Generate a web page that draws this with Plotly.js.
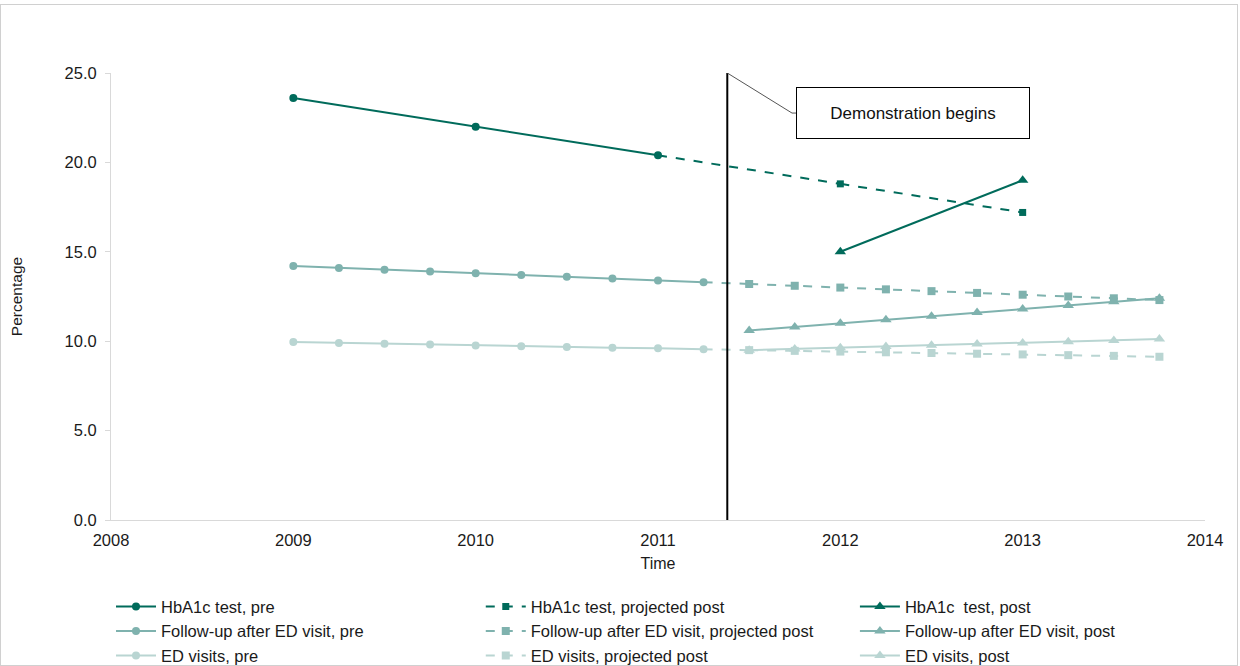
<!DOCTYPE html>
<html><head><meta charset="utf-8">
<script src="https://cdn.plot.ly/plotly-3.0.1.min.js"></script>
<style>
body{margin:0;padding:0;background:#fff;}
#wrap{position:relative;width:1240px;height:666px;}
#chart{position:absolute;left:0;top:0;width:1240px;height:666px;}
#frame{position:absolute;left:0;top:4px;width:1236px;height:660px;border:1px solid #d0d0d0;pointer-events:none;}
</style>
</head><body>
<div id="wrap"><div id="chart"></div><div id="frame"></div></div>
<script>
// ---- data ----
const hbaPreX = [2009, 2010, 2011];
const hbaPreY = [23.6, 22.0, 20.4];
const hbaProjX = [2011, 2012, 2013];
const hbaProjY = [20.4, 18.8, 17.2];
const hbaPostX = [2012, 2013];
const hbaPostY = [15.0, 19.0];

const fuPreX = [2009, 2009.25, 2009.5, 2009.75, 2010, 2010.25, 2010.5, 2010.75, 2011, 2011.25];
const fuPreY = [14.2, 14.1, 14.0, 13.9, 13.8, 13.7, 13.6, 13.5, 13.4, 13.3];
const fuProjX = [2011.25, 2011.5, 2011.75, 2012, 2012.25, 2012.5, 2012.75, 2013, 2013.25, 2013.5, 2013.75];
const fuProjY = [13.3, 13.2, 13.1, 13.0, 12.9, 12.8, 12.7, 12.6, 12.5, 12.4, 12.3];
const fuPostX = [2011.5, 2011.75, 2012, 2012.25, 2012.5, 2012.75, 2013, 2013.25, 2013.5, 2013.75];
const fuPostY = [10.6, 10.8, 11.0, 11.2, 11.4, 11.6, 11.8, 12.0, 12.2, 12.4];

const edPreX = [2009, 2009.25, 2009.5, 2009.75, 2010, 2010.25, 2010.5, 2010.75, 2011, 2011.25];
const edPreY = [9.95, 9.9, 9.86, 9.81, 9.76, 9.72, 9.68, 9.64, 9.6, 9.55];
const edProjX = [2011.25, 2011.5, 2011.75, 2012, 2012.25, 2012.5, 2012.75, 2013, 2013.25, 2013.5, 2013.75];
const edProjY = [9.55, 9.5, 9.46, 9.42, 9.38, 9.34, 9.3, 9.26, 9.22, 9.18, 9.13];
const edPostX = [2011.5, 2011.75, 2012, 2012.25, 2012.5, 2012.75, 2013, 2013.25, 2013.5, 2013.75];
const edPostY = [9.5, 9.57, 9.63, 9.7, 9.77, 9.84, 9.9, 9.97, 10.04, 10.12];

const demoStart = 2011.38;
const calloutText = "Demonstration begins";

// ---- styles ----
const cHba = "#006B5B", cFu = "#7FB2AE", cEd = "#B9D5D2";
const FONT = "Liberation Sans, Arial, sans-serif";
const TXT = "#1a1a1a";

function tr(name, x, y, color, dash, symbol, size, legend){
  return {type:"scatter", mode:"lines+markers", name:name, x:x, y:y, legend:legend,
    line:{color:color, width:2, dash:dash},
    marker:{color:color, symbol:symbol, size:size}};
}
// projected series: connector segment from last "pre" point (no marker) + marked trace
function proj(name, x, y, color, size){
  return [
    {type:"scatter", mode:"lines", x:x.slice(0,2), y:y.slice(0,2), showlegend:false,
      line:{color:color, width:2, dash:"dash"}, hoverinfo:"skip"},
    tr(name, x.slice(1), y.slice(1), color, "dash", "square", size, "legend2")
  ];
}

const data = [
  ...proj("HbA1c test, projected post", hbaProjX, hbaProjY, cHba, 7),
  ...proj("Follow-up after ED visit, projected post", fuProjX, fuProjY, cFu, 8),
  ...proj("ED visits, projected post", edProjX, edProjY, cEd, 8),
  tr("HbA1c test, pre", hbaPreX, hbaPreY, cHba, "solid", "circle", 8, "legend"),
  tr("Follow-up after ED visit, pre", fuPreX, fuPreY, cFu, "solid", "circle", 8, "legend"),
  tr("ED visits, pre", edPreX, edPreY, cEd, "solid", "circle", 8, "legend"),
  tr("HbA1c  test, post", hbaPostX, hbaPostY, cHba, "solid", "triangle-up", 10, "legend3"),
  tr("Follow-up after ED visit, post", fuPostX, fuPostY, cFu, "solid", "triangle-up", 10, "legend3"),
  tr("ED visits, post", edPostX, edPostY, cEd, "solid", "triangle-up", 10, "legend3")
];

// annotation geometry (data coordinates)
const elbowX = 2011.735, elbowY = 22.76, boxEdgeX = 2011.765;
const boxX = 2012.4;

const legBase = {orientation:"v", xanchor:"left", y:-0.155, yanchor:"top",
  font:{size:16.5, color:TXT}, traceorder:"normal", itemwidth:40, bgcolor:"rgba(0,0,0,0)"};

const layout = {
  width:1240, height:666,
  margin:{l:111, r:35, t:73, b:146, autoexpand:false},
  paper_bgcolor:"rgba(0,0,0,0)", plot_bgcolor:"#fff",
  font:{family:FONT, size:16, color:TXT},
  showlegend:true,
  xaxis:{range:[2008,2014], dtick:1, tick0:2008, showgrid:false, zeroline:false,
    showline:true, linecolor:"#d9d9d9", linewidth:1, ticks:"", ticklabelstandoff:5,
    tickfont:{size:16.5, color:TXT},
    title:{text:"Time", font:{size:16, color:TXT}, standoff:10}},
  yaxis:{range:[0,25], dtick:5, tickformat:".1f", showgrid:false, zeroline:false,
    showline:true, linecolor:"#d9d9d9", linewidth:1, ticks:"outside", ticklen:5, tickcolor:"#d9d9d9",
    ticklabelstandoff:5, tickfont:{size:16.5, color:TXT},
    title:{text:"Percentage", font:{size:15.5, color:TXT}, standoff:38}},
  legend:Object.assign({}, legBase, {x:0}),
  legend2:Object.assign({}, legBase, {x:0.338}),
  legend3:Object.assign({}, legBase, {x:0.680}),
  shapes:[
    {type:"line", xref:"x", yref:"y", x0:demoStart, x1:demoStart, y0:0, y1:25,
      line:{color:"#000", width:2}},
    {type:"path", xref:"x", yref:"y",
      path:`M ${demoStart},25 L ${elbowX},${elbowY} L ${boxEdgeX},${elbowY}`,
      line:{color:"#555", width:1}}
  ],
  annotations:[
    {xref:"x", yref:"y", x:boxX, y:elbowY, text:calloutText, showarrow:false,
      bordercolor:"#000", borderwidth:1, bgcolor:"#fff", width:226, height:44, borderpad:3,
      font:{size:17, color:"#111"}}
  ]
};

Plotly.newPlot("chart", data, layout, {displayModeBar:false, staticPlot:true});
</script>
</body></html>
